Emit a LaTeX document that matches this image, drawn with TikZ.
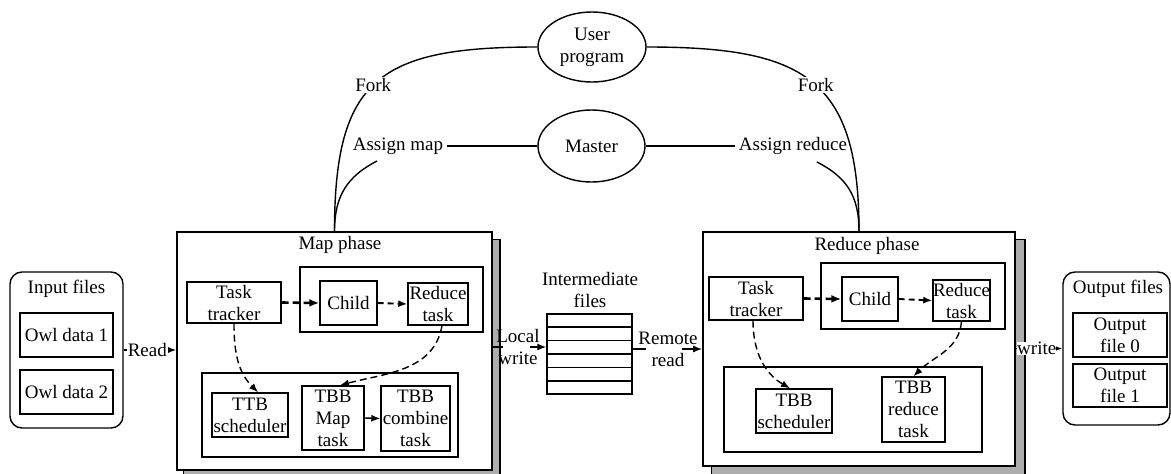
\documentclass[tikz,border=0pt]{standalone}
\usepackage{fontspec}
\setmainfont{Liberation Serif}
\usetikzlibrary{arrows.meta,calc,backgrounds,shapes.geometric}
\begin{document}
\begin{tikzpicture}[x=1pt,y=-1pt,
 every node/.style={font=\fontsize{19}{22}\selectfont, align=center},
 box/.style={draw, line width=1.4pt, fill=white, inner sep=0pt},
 phase/.style={draw, line width=1.6pt, fill=white, inner sep=0pt},
 grp/.style={draw, line width=1.4pt, inner sep=0pt},
 rbox/.style={draw, line width=1.4pt, rounded corners=12pt, inner sep=0pt},
 ell/.style={draw, ellipse, line width=1.4pt, inner sep=0pt},
 lbl/.style={fill=white, inner sep=1pt},
 conn/.style={line width=1.4pt},
 arr/.style={line width=1.4pt, -{Latex[length=9pt,width=7pt]}},
 darr/.style={line width=1.4pt, dash pattern=on 7pt off 4pt, -{Latex[length=9pt,width=7pt]}},
 mdarr/.style={line width=1.9pt, dash pattern=on 6pt off 4pt, -{Latex[length=9pt,width=7pt]}},
 tdarr/.style={line width=2.6pt, dash pattern=on 7pt off 4pt, -{Latex[length=10pt,width=8pt]}},
 shadowbox/.style={fill=black!32, draw=black, line width=1.4pt}
]
\useasboundingbox (0,0) rectangle (1171,474);

% Input files
\node[rbox, minimum width=113pt, minimum height=156pt] (inbox) at (66.5,350) {};
\node (intitle) at (66.5,289) {Input files};
\node[box, minimum width=93pt, minimum height=44pt] (owl1) at (66.5,335) {Owl data 1};
\node[box, minimum width=93pt, minimum height=44pt] (owl2) at (66.5,392) {Owl data 2};

% Map phase
\node[phase, minimum width=315pt, minimum height=238pt] (mapbox) at (334.5,351) {};
\node (maptitle) at (340,245) {Map phase};
\node[grp, minimum width=183pt, minimum height=65pt] (mgrp) at (391.5,299.5) {};
\node[box, minimum width=94pt, minimum height=41pt] (mtt) at (234,302.5) {Task\\tracker};
\node[box, minimum width=57pt, minimum height=44pt] (mchild) at (348.5,303) {Child};
\node[box, minimum width=60pt, minimum height=42pt] (mred) at (438,304) {Reduce\\task};
\node[grp, minimum width=256pt, minimum height=84pt] (mlow) at (330,415) {};
\node[box, minimum width=76pt, minimum height=44pt] (mttb) at (250,415) {TTB\\scheduler};
\node[box, minimum width=62pt, minimum height=64pt] (mmap) at (333,418) {TBB\\Map\\task};
\node[box, minimum width=69pt, minimum height=65pt] (mcomb) at (415.5,418.5) {TBB\\combine\\task};

% Intermediate files
\node[box, minimum width=85pt, minimum height=80pt] (inter) at (589.5,354) {};
\node (intertitle) at (590,290) {Intermediate\\files};
\foreach \k in {1,...,5}
  \draw[conn] ($(inter.north west)!\k/6!(inter.south west)$) -- ($(inter.north east)!\k/6!(inter.south east)$);

% Reduce phase
\node[phase, minimum width=312pt, minimum height=234pt] (redbox) at (859,349) {};
\node (redtitle) at (867,246) {Reduce phase};
\node[grp, minimum width=184pt, minimum height=66pt] (rgrp) at (913,296) {};
\node[box, minimum width=94pt, minimum height=43pt] (rtt) at (756,298.5) {Task\\tracker};
\node[box, minimum width=56pt, minimum height=44pt] (rchild) at (870,299) {Child};
\node[box, minimum width=57pt, minimum height=41pt] (rred) at (961.5,300.5) {Reduce\\task};
\node[grp, minimum width=258pt, minimum height=85pt] (rlow) at (853,409.5) {};
\node[box, minimum width=76pt, minimum height=44pt] (rsch) at (794,411) {TBB\\scheduler};
\node[box, minimum width=63pt, minimum height=65pt] (rtbb) at (913.5,409.5) {TBB\\reduce\\task};

% Output files
\node[rbox, minimum width=107pt, minimum height=153pt] (outbox) at (1116.5,348.5) {};
\node (outtitle) at (1118,289) {Output files};
\node[box, minimum width=94pt, minimum height=44pt] (out0) at (1120,335) {Output\\file 0};
\node[box, minimum width=94pt, minimum height=43pt] (out1) at (1120,385.5) {Output\\file 1};

% Top ellipses
\node[ell, minimum width=108pt, minimum height=70pt] (user) at (592,47) {User\\program};
\node[ell, minimum width=107pt, minimum height=72pt] (master) at (591.5,146) {Master};
\node (am) at (398,146) {Assign map};
\node (ar) at (793,146) {Assign reduce};
\coordinate (amc) at (377,161);
\coordinate (arc) at (817,162);

% shadows
\begin{scope}[on background layer]
\draw[shadowbox] ([shift={(7,8)}]mapbox.north west) rectangle ([shift={(7,8)}]mapbox.south east);
\draw[shadowbox] ([shift={(9,8)}]redbox.north west) rectangle ([shift={(9,8)}]redbox.south east);
\end{scope}

% top connectors
\draw[conn] (user.west) .. controls (380,47) and (334.5,78) .. (mapbox.north) node[lbl, pos=0.52] {Fork};
\draw[conn] (user.east) .. controls (804,47) and (859,78) .. (redbox.north) node[lbl, pos=0.52] {Fork};
\draw[conn] (master.west) -- (am.east);
\draw[conn] (master.east) -- (ar.west);
\draw[conn] (amc) .. controls (348,176) and (334.5,195) .. (mapbox.north);
\draw[conn] (arc) .. controls (846,177) and (859,195) .. (redbox.north);

% read / write flows
\draw[arr] (inbox.east) -- (inbox.east -| mapbox.west) node[lbl, pos=0.45] {Read};
\node (lw) at (518,347) {Local\\write};
\draw[conn] (mapbox.east |- lw) -- ([xshift=-15pt]lw.center);
\draw[arr] ([xshift=12pt]lw.center) -- (inter.west |- lw);
\node (rr) at (668,349) {Remote\\read};
\draw[conn] (inter.east |- rr) -- ([xshift=-22pt]rr.center);
\draw[arr] ([xshift=14pt]rr.center) -- (redbox.west |- rr);
\draw[arr] (redbox.east |- outbox) -- (outbox.west) node[fill=white, inner sep=0pt, pos=0.45] {write};

% map phase arrows
\draw[tdarr] (mtt.east) -- (mchild.west);
\draw[mdarr] (mchild.east) -- (mred.west);
\draw[darr] (mtt.south) to[out=-90,in=135] ([xshift=8pt]mttb.north);
\draw[darr] ([xshift=4pt]mred.south) to[out=-100,in=15] ([xshift=7pt]mmap.north);
\draw[arr] (mmap.east) -- (mcomb.west);

% reduce phase arrows
\draw[tdarr] (rtt.east) -- (rchild.west);
\draw[mdarr] (rchild.east) -- (rred.west);
\draw[darr] ([xshift=-3pt]rtt.south) to[out=-90,in=150] ([xshift=-4pt]rsch.north);
\draw[darr] (rred.south) to[out=-95,in=45] (rtbb.north);
\end{tikzpicture}
\end{document}
